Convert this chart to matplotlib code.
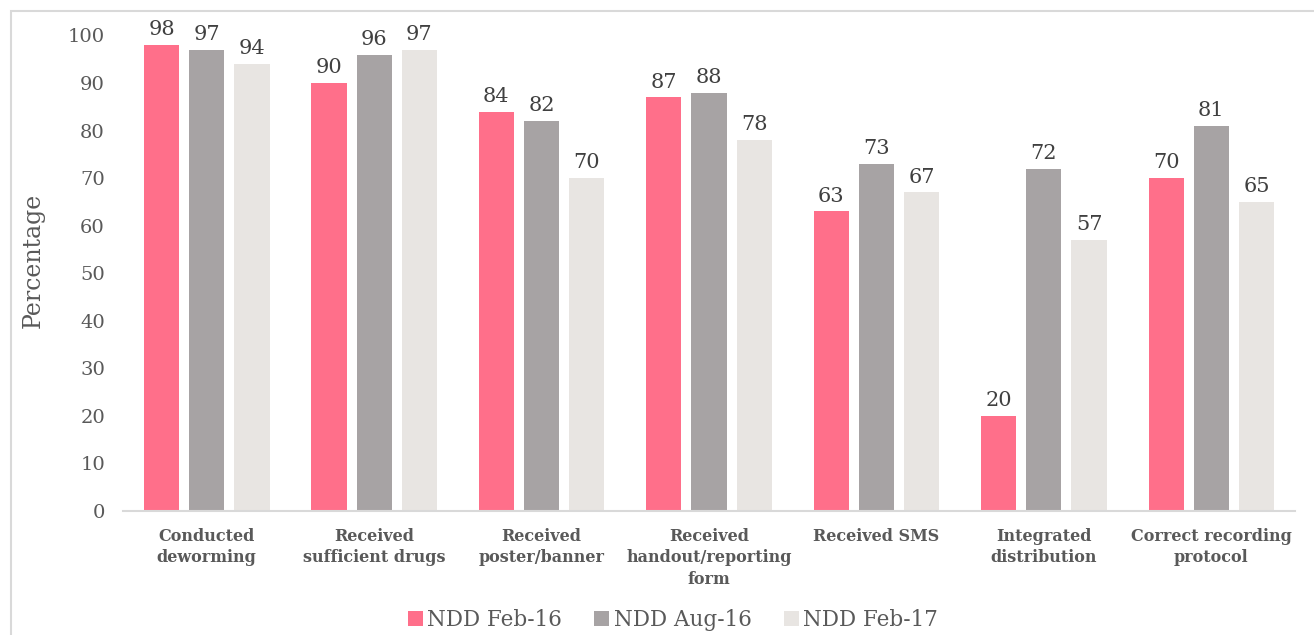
import matplotlib.pyplot as plt
import numpy as np
from matplotlib.patches import Rectangle

categories = ['Conducted\ndeworming', 'Received\nsufficient drugs', 'Received\nposter/banner',
              'Received\nhandout/reporting\nform', 'Received SMS', 'Integrated\ndistribution',
              'Correct recording\nprotocol']
series_names = ['NDD Feb-16', 'NDD Aug-16', 'NDD Feb-17']
feb16 = [98, 90, 84, 87, 63, 20, 70]
aug16 = [97, 96, 82, 88, 73, 72, 81]
feb17 = [94, 97, 70, 78, 67, 57, 65]
colors = ['#FF6F8A', '#A7A3A4', '#E8E5E2']

txt = '#595959'
plt.rcParams['font.family'] = ['DejaVu Serif']

fig = plt.figure(figsize=(13.14, 6.35), dpi=100)
ax = fig.add_axes([123/1314, 1 - 511/635, 1172/1314, 475.5/635])

# outer chart border
fig.patches.append(Rectangle((11/1314, -0.2), 1.2, 1 - 11/635 + 0.2, transform=fig.transFigure,
                             fill=False, edgecolor='#D9D9D9', linewidth=1.5))

x = np.arange(len(categories))
w = 0.21
off = 0.27
for i, (vals, name) in enumerate(zip([feb16, aug16, feb17], series_names)):
    bars = ax.bar(x + (i - 1) * off, vals, w, color=colors[i], label=name)
    for b, v in zip(bars, vals):
        ax.text(b.get_x() + b.get_width() / 2, v + 1.2, str(v), ha='center', va='bottom',
                fontsize=15, color='#404040')

ax.set_xlim(-0.5, len(categories) - 0.5)
ax.set_ylim(0, 100)
ax.set_yticks(range(0, 101, 10))
ax.tick_params(axis='y', length=0, pad=13, labelsize=14, labelcolor=txt)
ax.tick_params(axis='x', length=0, pad=12)
ax.set_xticks(x)
ax.set_xticklabels(categories, fontsize=11.5, fontweight='bold', color=txt, linespacing=1.34)
for s in ['top', 'right', 'left']:
    ax.spines[s].set_visible(False)
ax.spines['bottom'].set_color('#D9D9D9')
ax.spines['bottom'].set_linewidth(1.5)

fig.text(33/1314, 1 - 260/635, 'Percentage', rotation=90, ha='center', va='center',
         fontsize=17, color=txt)

ax.legend(loc='center', bbox_to_anchor=(0.5 - 36/1172, (511 - 620) / 475.5), ncol=3,
          frameon=False, fontsize=15.5, labelcolor=txt, handlelength=0.7, handleheight=0.7,
          handletextpad=0.2, columnspacing=1.5)

fig.savefig('out.png', dpi=100)
